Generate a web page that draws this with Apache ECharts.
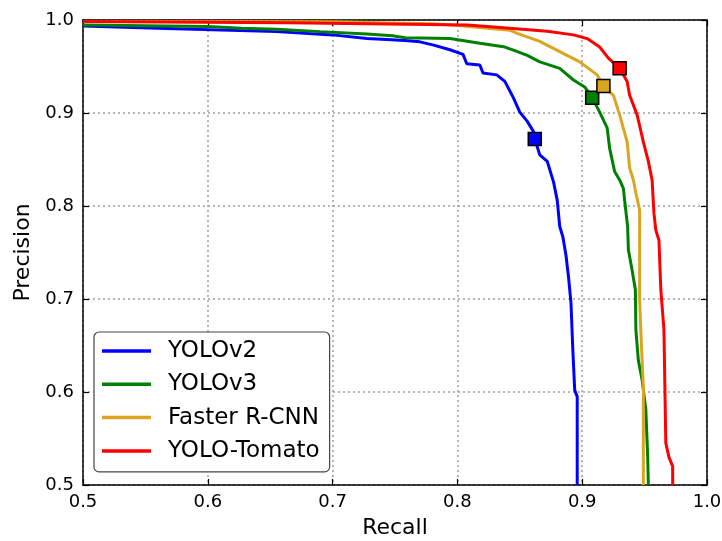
<!DOCTYPE html>
<html>
<head>
<meta charset="utf-8">
<script src="https://cdn.jsdelivr.net/npm/echarts@6/dist/echarts.min.js"></script>
<style>
  html, body { margin: 0; padding: 0; background: #fff; }
  #chart { width: 722px; height: 541px; }
</style>
</head>
<body>
<div id="chart"></div>
<script>
// PR curves
var names = ['YOLOv2', 'YOLOv3', 'Faster R-CNN', 'YOLO-Tomato']
var colors = ['#0000ff', '#008000', '#daa520', '#ff0000']

var v2Recall = [0.5, 0.56, 0.655, 0.70, 0.7275, 0.7435, 0.758, 0.770, 0.781, 0.794, 0.8045, 0.8075, 0.818, 0.8205, 0.8315, 0.838, 0.845, 0.850, 0.856, 0.861, 0.862, 0.866, 0.872, 0.877, 0.880, 0.882, 0.8845, 0.887, 0.889, 0.891, 0.8925, 0.894, 0.896, 0.896]
var v2Precision = [0.9935, 0.991, 0.9875, 0.984, 0.980, 0.979, 0.978, 0.9765, 0.973, 0.968, 0.963, 0.953, 0.9516, 0.943, 0.941, 0.934, 0.916, 0.901, 0.891, 0.880, 0.872, 0.855, 0.848, 0.826, 0.806, 0.778, 0.767, 0.747, 0.724, 0.696, 0.645, 0.602, 0.595, 0.5]

var v3Recall = [0.5, 0.60, 0.627, 0.655, 0.69, 0.7275, 0.748, 0.758, 0.794, 0.818, 0.837, 0.846, 0.856, 0.866, 0.882, 0.893, 0.902, 0.908, 0.914, 0.920, 0.922, 0.926, 0.930, 0.933, 0.934, 0.9364, 0.937, 0.940, 0.9426, 0.943, 0.945, 0.948, 0.951, 0.9525, 0.953]
var v3Precision = [0.9946, 0.993, 0.991, 0.990, 0.9875, 0.985, 0.983, 0.981, 0.980, 0.975, 0.9713, 0.967, 0.962, 0.955, 0.948, 0.9355, 0.928, 0.9165, 0.901, 0.884, 0.862, 0.837, 0.828, 0.819, 0.806, 0.778, 0.753, 0.731, 0.710, 0.667, 0.634, 0.613, 0.581, 0.530, 0.5]

var frcnnRecall = [0.5, 0.70, 0.78, 0.80, 0.842, 0.848, 0.866, 0.882, 0.898, 0.912, 0.917, 0.925, 0.930, 0.936, 0.938, 0.941, 0.943, 0.946, 0.946, 0.9475, 0.949, 0.949]
var frcnnPrecision = [0.9985, 0.998, 0.996, 0.994, 0.989, 0.9857, 0.977, 0.966, 0.955, 0.941, 0.929, 0.919, 0.898, 0.869, 0.841, 0.828, 0.814, 0.796, 0.699, 0.649, 0.606, 0.5]

var tomatoRecall = [0.5, 0.664, 0.808, 0.842, 0.872, 0.893, 0.904, 0.914, 0.921, 0.930, 0.936, 0.938, 0.944, 0.949, 0.953, 0.956, 0.9575, 0.959, 0.9615, 0.963, 0.9655, 0.967, 0.9695, 0.9725, 0.9725]
var tomatoPrecision = [0.9985, 0.997, 0.9946, 0.991, 0.988, 0.984, 0.980, 0.971, 0.959, 0.948, 0.934, 0.919, 0.898, 0.869, 0.848, 0.828, 0.792, 0.774, 0.763, 0.710, 0.667, 0.545, 0.530, 0.520, 0.5]

// square markers (recall, precision)
var markRecall = [0.862, 0.908, 0.917, 0.930]
var markPrecision = [0.872, 0.9165, 0.929, 0.948]

var tickFont = 'DejaVu Sans'

function zip(xs, ys) {
  return xs.map(function(x, i) { return [x, ys[i]] })
}

var curves = [
  zip(v2Recall, v2Precision),
  zip(v3Recall, v3Precision),
  zip(frcnnRecall, frcnnPrecision),
  zip(tomatoRecall, tomatoPrecision)
]

var series = []
curves.forEach(function(data, i) {
  series.push({
    name: names[i],
    type: 'line',
    symbol: 'none',
    data: data,
    lineStyle: { color: colors[i], width: 3 },
    itemStyle: { color: colors[i] },
    z: 2 + i
  })
})
markRecall.forEach(function(x, i) {
  series.push({
    type: 'scatter',
    symbol: 'rect',
    symbolSize: 13,
    data: [[x, markPrecision[i]]],
    itemStyle: { color: colors[i], opacity: 1, borderColor: '#000', borderWidth: 1.5 },
    z: 10
  })
})

var frameLine = { show: true, onZero: false, lineStyle: { color: '#000', width: 1.5 } }
var frameTick = { show: true, inside: true, length: 6, lineStyle: { color: '#000', width: 1.2 } }

var option = {
  animation: false,
  backgroundColor: '#fff',
  grid: { left: 83, right: 15, top: 20, bottom: 56, containLabel: false, outerBoundsMode: 'none' },
  legend: {
    data: names,
    orient: 'vertical',
    left: 94,
    top: 332,
    icon: 'rect',
    itemWidth: 49,
    itemHeight: 3.5,
    itemGap: 9.3,
    padding: [7, 10, 9, 8],
    borderColor: '#444',
    borderWidth: 1.2,
    borderRadius: 5,
    backgroundColor: '#fff',
    textStyle: { fontFamily: tickFont, fontSize: 23, color: '#000', lineHeight: 24, padding: [0, 0, 0, 12] }
  },
  xAxis: [
    {
      type: 'value',
      min: 0.5,
      max: 1.0,
      interval: 0.1,
      name: 'Recall',
      nameLocation: 'middle',
      nameGap: 32,
      nameTextStyle: { fontFamily: tickFont, fontSize: 22, color: '#000' },
      axisLine: frameLine,
      axisTick: frameTick,
      axisLabel: {
        margin: 8,
        fontFamily: tickFont,
        fontSize: 18,
        color: '#000',
        formatter: function(v) { return v.toFixed(1) }
      },
      splitLine: { show: true, lineStyle: { type: [2, 3], color: '#a0a0a0', width: 1.5 } }
    },
    {
      type: 'value',
      position: 'top',
      min: 0.5,
      max: 1.0,
      interval: 0.1,
      axisLine: frameLine,
      axisTick: frameTick,
      axisLabel: { show: false },
      splitLine: { show: false }
    }
  ],
  yAxis: [
    {
      type: 'value',
      min: 0.5,
      max: 1.0,
      interval: 0.1,
      name: 'Precision',
      nameLocation: 'middle',
      nameGap: 48,
      nameTextStyle: { fontFamily: tickFont, fontSize: 22, color: '#000' },
      axisLine: frameLine,
      axisTick: frameTick,
      axisLabel: {
        margin: 9,
        fontFamily: tickFont,
        fontSize: 18,
        color: '#000',
        formatter: function(v) { return v.toFixed(1) }
      },
      splitLine: { show: true, lineStyle: { type: [2, 3], color: '#a0a0a0', width: 1.5 } }
    },
    {
      type: 'value',
      position: 'right',
      min: 0.5,
      max: 1.0,
      interval: 0.1,
      axisLine: frameLine,
      axisTick: frameTick,
      axisLabel: { show: false },
      splitLine: { show: false }
    }
  ],
  series: series
}

var myChart = echarts.init(document.getElementById('chart'))
myChart.setOption(option)
</script>
</body>
</html>
